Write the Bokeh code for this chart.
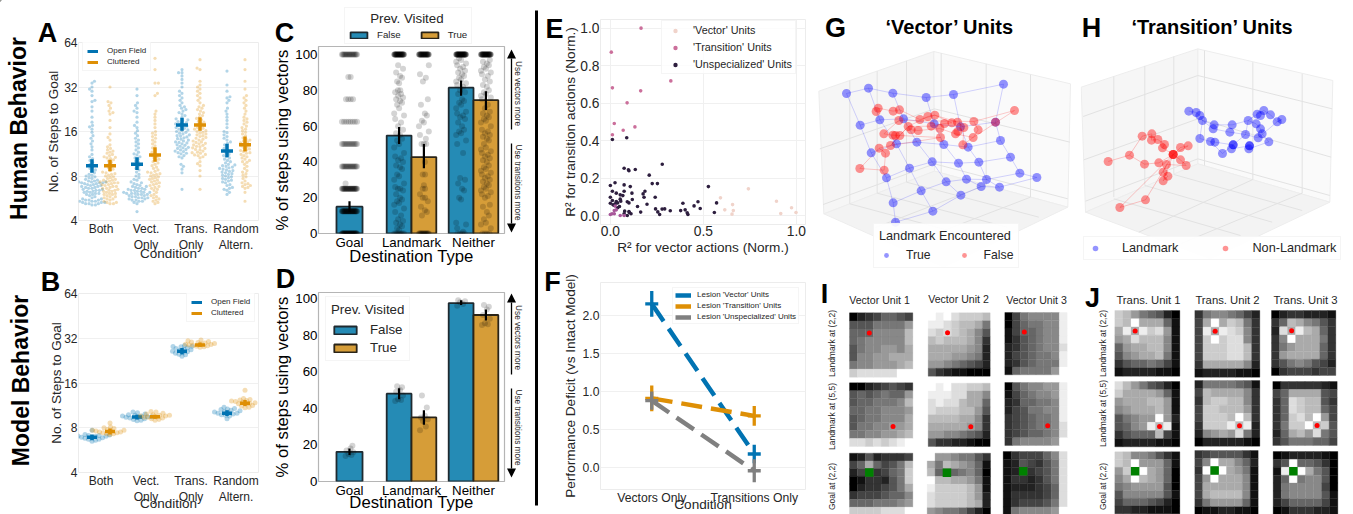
import math
from bokeh.plotting import figure
from bokeh.layouts import row, column
from bokeh.models import Range1d, FixedTicker, PrintfTickFormatter, Legend, LegendItem
from bokeh.core.properties import value
from bokeh.embed import file_html
from bokeh.resources import INLINE

FONT = "Liberation Sans"
BLUE, ORANGE = "#0173b2", "#de8f05"
BAR_BLUE, BAR_ORANGE = "#258bb5", "#d69d38"
TXT = "#262626"

# ---------- panels A / B ----------
conditions = ["Both", "Vect.\nOnly", "Trans.\nOnly", "Random\nAltern."]
a_open = [
 [5.1,5.1,5.2,5.2,5.2,5.3,5.3,5.3,5.4,5.4,5.4,5.5,5.5,5.5,5.6,5.6,5.7,5.8,5.9,6.0,6.0,6.1,6.1,6.2,6.2,6.3,6.3,6.4,6.4,6.5,6.5,6.6,6.6,6.7,6.7,6.8,6.8,6.9,6.9,7.0,7.0,7.1,7.1,7.2,7.2,7.2,7.3,7.3,7.3,7.4,7.4,7.5,7.6,7.7,7.8,7.9,8.0,8.1,8.2,8.4,8.6,8.8,9.0,9.3,9.6,9.9,10.2,10.5,10.8,11.2,12,12.6,13.2,13.8,14.4,15,15.8,16.6,17.2,17.6,18.5,20,22,23.5,25.5,26,28,30,31,32,34,35],
 [4.6,5.2,5.3,5.4,5.4,5.5,5.5,5.6,5.6,5.7,5.7,5.7,5.8,5.8,5.9,5.9,6.0,6.0,6.0,6.1,6.1,6.1,6.2,6.2,6.2,6.3,6.3,6.4,6.4,6.5,6.5,6.6,6.6,6.7,6.8,6.8,6.9,7.0,7.1,7.2,7.3,7.5,7.6,7.8,8.0,8.2,8.5,8.8,9.0,9.3,9.6,9.9,10.1,10.4,10.6,10.8,11.1,11.3,11.6,12,12.4,12.8,13.2,13.6,14,14.4,15,15.6,16.2,17,17.6,18.5,20,21.5,22,23,24,25,28,31],
 [6.5,8.4,8.9,9.3,9.6,10.6,10.8,11,11.3,11.4,11.5,11.7,11.8,12,12.1,12.3,12.4,12.5,12.7,12.9,13,13.2,13.4,13.5,13.6,13.8,14,14.2,14.3,14.5,14.7,14.9,15,15.2,15.4,15.6,15.8,16,16.2,16.4,16.6,16.8,17,17.2,17.4,17.6,17.8,18,18.2,18.4,18.7,19,19.2,19.5,20,20.5,21,21.5,22,22.5,23,23.5,24,25,26,27,28,29,30,32,34,36,38,40,40,42],
 [6.0,6.2,6.4,6.5,6.6,6.7,6.9,7.0,7.2,7.3,7.4,7.5,7.6,7.7,7.8,7.9,8.0,8.1,8.2,8.3,8.4,8.5,8.6,8.7,8.8,8.9,9.0,9.1,9.2,9.3,9.4,9.5,9.6,9.8,10,10.2,10.4,10.6,10.8,11,11.2,11.4,11.7,12,12.3,12.6,13,13.3,13.6,14,14.4,14.8,15.2,15.7,16,17,18,19,20,21,22,23,25,26,27,27.5,30,33,41],
]
a_clut = [
 [5.2,5.2,5.3,5.3,5.4,5.5,5.6,5.6,5.7,5.8,5.8,5.9,6.0,6.0,6.1,6.1,6.2,6.3,6.3,6.4,6.4,6.5,6.6,6.6,6.7,6.8,6.8,6.9,7.0,7.0,7.1,7.2,7.2,7.3,7.3,7.4,7.5,7.5,7.6,7.7,7.8,7.9,8.0,8.1,8.2,8.3,8.4,8.5,8.7,8.9,9.1,9.3,9.6,9.9,10.1,10.3,10.5,10.6,10.7,10.8,11,11.2,11.4,11.6,11.8,12,12.3,12.6,13,14,14.6,15.4,17,19,21,21.5,22,23,24,25,25.5,32],
 [5.2,5.3,5.4,5.5,5.6,5.7,5.8,5.9,6.0,6.2,6.4,6.5,6.6,6.7,6.8,6.9,7.0,7.1,7.2,7.3,7.4,7.5,7.6,7.7,7.8,7.9,8.0,8.1,8.2,8.3,8.4,8.5,8.6,8.8,9,9.2,9.4,9.6,9.8,10,10.2,10.4,10.6,10.8,11,11.3,11.6,12,12.4,12.8,13.2,13.6,14,14.4,14.8,15.2,15.6,16,17,18,19,20,21,22,28,29,34,34,42,50],
 [6.5,8.0,8.7,9.4,9.7,10,10.6,10.8,11,11.1,11.2,11.4,11.5,11.6,11.8,12,12.1,12.3,12.4,12.6,12.7,12.9,13,13.2,13.3,13.5,13.6,13.8,14,14.2,14.4,14.6,14.8,15,15.2,15.4,15.6,15.8,16,16.2,16.4,16.6,16.8,17,17.3,17.6,17.9,18.2,18.5,18.8,19.2,19.6,20,20.5,21,21.5,22,22.5,23,23.5,24,25,26,27,28,29,30,31,32,33,35,42,43,49],
 [5.4,6.2,6.6,6.7,6.8,6.9,7.0,7.1,7.2,7.4,7.7,7.9,8.1,8.3,8.5,8.7,9.0,9.3,9.6,9.9,10,10.2,10.4,10.6,10.8,11,11.2,11.4,11.5,11.7,11.9,12,12.2,12.4,12.6,12.8,13,13.2,13.4,13.6,13.8,14,14.2,14.5,15,15.4,15.8,16.2,16.6,17,17.4,18,18.5,19,19.5,20,21,22,23,24,25,26,27,28,31,35,42,49],
]
a_open_mean, a_clut_mean = [9.4, 9.6, 17.7, 11.8], [9.4, 11.1, 17.7, 13.0]
a_open_lo, a_open_hi = [8.4, 8.8, 16.2, 10.7], [10.4, 10.7, 19.8, 13.2]
a_clut_lo, a_clut_hi = [8.6, 10.0, 16.2, 11.7], [10.3, 12.5, 20.0, 14.8]

b_open = [
 [6.5,6.6,6.7,6.7,6.8,6.85,6.9,6.9,7.0,7.0,7.05,7.1,7.1,7.15,7.2,7.7],
 [8.9,9.0,9.1,9.2,9.3,9.4,9.4,9.5,9.5,9.6,9.6,9.7,9.8,9.9,10.1,10.2],
 [24.2,24.8,25,25.4,25.6,26,26.2,26.5,26.8,27,27.3,27.6,28,28.2,28.3,28.6],
 [9.2,9.6,9.7,9.8,9.9,10,10,10.1,10.2,10.3,10.4,10.5,10.6,10.7,10.8,11],
]
b_clut = [
 [7.2,7.3,7.3,7.4,7.4,7.5,7.5,7.6,7.6,7.7,7.7,7.8,7.9,8.0,8.1,8.6],
 [9.0,9.1,9.2,9.3,9.4,9.4,9.5,9.6,9.6,9.7,9.7,9.8,9.9,10,10.2,10.3],
 [27.8,28,28.3,28.5,28.7,28.8,29,29.2,29.3,29.5,29.7,30,30.2,30.4,30.8,31.2],
 [10.9,11,11.2,11.3,11.5,11.6,11.7,11.8,11.9,12,12.1,12.2,12.3,12.4,12.6,14.3],
]
b_open_mean, b_clut_mean = [6.9, 9.44, 26.2, 10.0], [7.55, 9.5, 28.8, 11.7]
b_open_lo, b_open_hi = [6.6, 9.1, 25.0, 9.6], [7.2, 9.8, 27.5, 10.5]
b_clut_lo, b_clut_hi = [7.2, 9.2, 28.0, 11.2], [7.9, 9.8, 30.0, 12.3]

# ---------- panels C / D ----------
destinations = ["Goal", "Landmark", "Neither"]
c_false = [15, 54.7, 81.5]
c_true = [42.7, 74.5]
c_false_lo, c_false_hi = [12, 50, 77], [18, 59.5, 85.5]
c_true_lo, c_true_hi = [36.5, 69], [50, 79.5]
c_goal = [100]*20 + [87.5]*2 + [75]*4 + [62.5]*8 + [50]*14 + [37.5]*18 + [28] + [25]*30 + [12.5]*40 + [0]*40
c_land_f = [100]*35 + [94,92,90,88,87,85,84,80,80,79,78,77,76,75,74,73,72,70,67,66,64,62,60,58,56,55,53,52,50,48,45,43,42,41,40,38,37,36,33,32,30,28,26,25,25,24,22,20,19,18,17,16,14,12,10,8,7,6,5,4,3,2] + [0]*8
c_land_t = [100]*32 + [94,89,87,85,75,72,67,66,63,62,60,57,55,53,50,50,50,40,33,33,27,25,25,22,20,20,18,15,13,12,10] + [0]*16
c_neit_f = [100]*40 + [98,97,96,95,94,93,92,91,90,89,88,87,86,85,84,83,82,80,79,78,75,74,73,72,70,68,67,66,65,64,62,60,58,57,56,55,52,50,45,31,30,28,25,24,20,19,6,5,3,1] + [0]*4
c_neit_t = [100]*36 + [97,96,95,94,93,92,91,90,89,88,86,85,83,82,80,79,78,77,76,75,72,70,68,67,66,65,64,63,62,60,58,57,56,55,54,53,52,50,48,47,46,45,44,43,42,41,40,38,37,36,35,34,33,32,31,30,29,28,27,26,25,24,23,22,21,20,16,15,12,10,8,6,5,3] + [0]*4
d_false = [16.2, 48, 97.5]
d_true = [35, 91]
d_false_lo, d_false_hi = [14.5, 45, 96.5], [18, 51, 99]
d_true_lo, d_true_hi = [31, 88], [39, 94]
d_goal = [14, 14.5, 15, 16, 17, 18, 19.5]
d_land_f = [44, 44.5, 45, 47, 49, 50, 51.5, 52]
d_land_t = [28, 30, 33, 34, 35, 36, 40.5, 47]
d_neit_f = [96, 97, 98, 98.5, 99]
d_neit_t = [85.5, 86, 86.5, 89, 91, 94, 95.5, 96.5]

# ---------- panel E ----------
e_vec_x = [.592,.742,.615,.657,.661,.654,.893,.916,.974,.998]
e_vec_y = [.096,.144,.032,.060,.028,.009,.078,.012,.043,.018]
e_tr_x = [.165,.005,.011,.163,.325,.090,.021,.069,.132,.011]
e_tr_y = [1.0,.872,.682,.666,.719,.602,.492,.456,.474,.432]
e_trlow_x = [0.0,.009,.021,.032,.021,.053,.074,.026]
e_trlow_y = [.007,.011,.028,.032,.011,.002,.002,.052]
e_un_x = [.011,.088,.074,.097,.100,.134,.279,.209,.225,.253,0,.025,.074,.107,.011,.074,.186,.176,.032,.053,.067,.116,.181,0,.011,.032,.053,.026,.039,.056,.021,.091,.100,.118,.197,.241,.146,.243,.255,.265,.278,.292,.322,.378,.390,.402,.413,.417,.450,.471,.483,.527,.571,.559,.163,.077,.100,.074,.091,.111,.102,.049,.039,0,.014]
e_un_y = [.407,.416,.254,.245,.240,.247,.275,.217,.172,.172,.162,.176,.165,.156,.131,.131,.131,.117,.121,.112,.108,.121,.099,.099,.082,.076,.089,.064,.069,.078,.055,.075,.069,.087,.062,.099,.050,.037,.021,.007,.036,.037,.027,.028,.067,.032,.016,.007,.053,.075,.039,.156,.069,.018,.020,.025,.023,.011,.002,.011,.018,.050,.043,.067,.059]

# ---------- panel F ----------
f_conditions = ["Vectors Only", "Transitions Only"]
f_vec, f_vec_err = [2.15, 0.18], [0.17, 0.12]
f_tra, f_tra_err = [0.91, 0.68], [0.17, 0.13]
f_uns, f_uns_err = [0.88, -0.04], [0.12, 0.15]

# ---------- panel G / H: projected positions of the 3D scatter ----------
g_true_x = [108,174,247,347,429,579, 149,208,279,371,450,555, 182,258,319,400,473,570, 228,297,365,444,505,600, 248,332,407,468,528,628, 255,367,451,512,567,679]
g_true_y = [279,263,278,291,282,251, 374,358,355,370,379,365, 457,430,425,432,440,420, 532,503,484,488,485,470, 607,571,544,536,537,518, 665,632,584,558,560,531]
g_false_x = [203,197,248,267,265,328,352,373,612,490,424,441,402,362,460,293,302,323,388,503,220,247,255,268,390,435,442,488,240,457,206,225,148,221,555]
g_false_y = [323,333,332,328,360,357,348,344,330,363,367,365,369,377,381,378,388,390,384,388,400,404,405,405,411,400,393,411,435,433,443,458,504,509,365]
g_false_chain = [0,2,3,5,7,10,12,13,15,16,17,18,25,27,19,9,4,20,21,23,24,28,15]
g_false_chain2 = [32,33,31,30,32]
g_false_chain3 = [30,28,15,6,7,11,14,29,27,8,9]
h_true_x = [325,347,358,366,401,398,455,448,503,530,540,550,570,590,604,527,540,545,533,495,358,390,403,458,458,507,507,453,505,565,426]
h_true_y = [332,336,345,360,373,385,373,395,360,341,345,330,343,364,357,370,385,400,412,402,414,423,425,433,433,436,436,445,445,424,459]
h_true_chain = [0,1,2,3,4,6,8,9,11,12,13,14,13,18,19,7,5,3,20,21,22,23,24,27,25,26,28,29,17,16,15,8,19,23,30,21]
h_false_x = [185,214,213,232,252,246,300,323,278,278,278,300,258,235,192,147,83,317,248,262,248,195,118]
h_false_y = [407,400,419,417,432,442,441,436,462,462,462,478,492,487,491,464,483,495,515,527,541,598,621]
h_false_chain = [16,15,0,1,2,3,4,5,8,6,7,8,11,17,12,18,19,20,8,21,22,8,13,14,15]

# ---------- panels I / J: heat maps (one hex digit per cell, black 0 .. white f) ----------
i_maps = [
 ["02346654","55577779","6668888b","6788888b","5788998a","58899aaa","788999ab","cdddddff"],
 ["00234543","56567669","5667778b","66778889","5677888a","5778899a","778899ab","ddcdcdef"],
 ["12523334","46a6457b","2453467c","0133257c","0233457a","34445668","66677789","ccccdddf"],
 ["fefdcccb","eedcbba7","dcdcba85","bcbbba83","aaaaa982","aaa99872","99876542","53211000"],
 ["fefddccb","eeeddaa8","deddbaa6","dcccbb95","bbbbaa83","aaaaa983","99887652","53322100"],
 ["f9987753","a7ba9861","b6567860","fbbaa971","eccccb91","dccccb92","dccccba2","98776420"],
 ["0478888e","0467788e","1466788e","1356788e","2356788d","2456778e","2356777e","1677779f"],
 ["0578899e","1467889e","2366778e","2457788e","3456778e","3456778d","3456678d","3788889f"],
 ["0344468d","1254357d","1253457d","1332357d","1222346d","1333346d","1344457d","1788889f"],
]
j_maps = [
 ["cb976520","cbfaaa61","aeaecd91","9adbbb81","69aabb81","589aab71","35667641","12222110"],
 ["db975420","caaaa961","9aaabb91","89aaab91","57899f92","5689ebe1","35666b41","12222110"],
 ["cb887531","cbf99961","9cafa960","8afba960","78999950","58888851","46665420","33221110"],
 ["37887642","4afacb73","4eaedc83","4cfcdd83","4cccddb3","4cccddb3","3aaaaa82","12222110"],
 ["27777651","4baaaa83","3bccbb83","4ccbbb93","4cccbfb3","3cccebe2","289a9d72","02222210"],
 ["34555531","48faa862","3fbfa971","49faaa81","4aaaaa81","4abbbb81","37999961","01122110"],
 ["02332221","36ba8753","2daeba63","38faaa73","379aaa63","39aaaa63","35787542","03444344"],
 ["03333321","46aaaa54","36dcbb53","36dcbb64","36cdbf94","37ccfbc5","26ab9d75","35777664"],
 ["01222210","35f66530","1eafa750","26f78850","27888840","27888851","24666641","01333221"],
]
i_titles = ["Vector Unit 1", "Vector Unit 2", "Vector Unit 3"]
j_titles = ["Trans. Unit 1", "Trans. Unit 2", "Trans. Unit 3"]
row_titles = ["Landmark at (2,2)", "Landmark at (5,5)", "Goal at (2,2)"]

# ---------- helpers ----------
def panel(box, frame, xr, yr, ylog=False, **kw):
    bx0, by0, bx1, by1 = box
    fx0, fx1, fy0, fy1 = frame
    p = figure(width=bx1 - bx0, height=by1 - by0,
               min_border_left=fx0 - bx0, min_border_right=bx1 - fx1,
               min_border_top=fy0 - by0, min_border_bottom=by1 - fy1,
               x_range=Range1d(*xr), y_range=Range1d(*yr), output_backend="svg",
               toolbar_location=None, y_axis_type="log" if ylog else "linear", **kw)
    for ax in (p.xaxis[0], p.yaxis[0]):
        ax.major_tick_line_color = None
        ax.minor_tick_line_color = None
        ax.major_tick_out = 0
        ax.major_tick_in = 0
        ax.minor_tick_out = 0
        ax.minor_tick_in = 0
        ax.axis_line_color = None
        ax.major_label_text_font = FONT
        ax.axis_label_text_font = FONT
        ax.axis_label_text_font_style = "normal"
        ax.major_label_standoff = 1
    return p

def style_axes(p, tick, lab, color):
    for ax in (p.xaxis[0], p.yaxis[0]):
        ax.major_label_text_font_size = f"{tick}px"
        ax.axis_label_text_font_size = f"{lab}px"
        ax.major_label_text_color = color
        ax.axis_label_text_color = color

def swarm(vals, px_of, d):
    order = sorted(range(len(vals)), key=lambda i: vals[i])
    placed, out = [], [0.0] * len(vals)
    for n, i in enumerate(order):
        y = px_of(vals[i])
        sign = 1 if n % 2 else -1
        k = 0
        while True:
            dx = sign * ((k + 1) // 2) * 0.5 * (1 if k % 2 else -1)
            if all((dx - a) ** 2 + (y - b) ** 2 >= d * d for a, b in placed[-60:]):
                break
            k += 1
        placed.append((dx, y))
        out[i] = dx
    return out

JITTER = [-4, 2, -1, 4, -3, 1, 3, -2, 0, -5, 5]
def spread(vals, half):
    counts, seen, out = {}, {}, []
    for v in vals:
        counts[v] = counts.get(v, 0) + 1
    for i, v in enumerate(vals):
        n = counts[v]
        j = seen.get(v, 0)
        seen[v] = j + 1
        if n >= 2:
            out.append((j - (n - 1) / 2) * (2 * min(half, (n - 1) * 1.2) / (n - 1)))
        else:
            out.append(JITTER[i % len(JITTER)])
    return out

def behaviour(box, frame, opens, cluts, om, cm, olo, ohi, clo, chi, size, d, cross, legend_xy, ylab_standoff, xlab_standoff):
    p = panel(box, frame, (-0.5, 3.5), (4, 64), ylog=True)
    p.xaxis.ticker = FixedTicker(ticks=[0, 1, 2, 3])
    p.xaxis.major_label_overrides = {i: c for i, c in enumerate(conditions)}
    p.yaxis.ticker = FixedTicker(ticks=[4, 8, 16, 32, 64])
    p.yaxis.formatter = PrintfTickFormatter(format="%d")
    p.xaxis.axis_label = "Condition"
    p.yaxis.axis_label = "No. of Steps to Goal"
    p.xaxis.axis_label_standoff = xlab_standoff
    p.yaxis.axis_label_standoff = ylab_standoff
    style_axes(p, 12, 13.5, TXT)
    p.xgrid.visible = False
    p.ygrid.grid_line_color = "#f0f0f0"
    p.outline_line_color = "#ececec"
    fx0, fx1, fy0, fy1 = frame
    ppo = (fy1 - fy0) / 4.0
    ppc = (fx1 - fx0) / 4.0
    px_of = lambda v: math.log2(v) * ppo
    rends = {}
    for groups, means, lo, hi, off, col, name in (
            (opens, om, olo, ohi, -0.2, BLUE, "Open Field"), (cluts, cm, clo, chi, 0.2, ORANGE, "Cluttered")):
        xs, ys = [], []
        for i, g in enumerate(groups):
            for v, dx in zip(g, swarm(g, px_of, d)):
                xs.append(i + off + dx / ppc)
                ys.append(v)
        p.scatter(xs, ys, size=size, fill_color=col, fill_alpha=0.3, line_color=None)
        cx = [i + off for i in range(4)]
        p.segment(cx, lo, cx, hi, line_color=col, line_width=3.5)
        p.scatter(cx, means, marker="dash", size=cross, line_color=col, line_width=3.5)
        rends[name] = p.line([0, 0], [4, 4], line_color=col, line_width=3)
    leg = Legend(items=[LegendItem(label=k, renderers=[r]) for k, r in rends.items()],
                 location=legend_xy, label_text_font=FONT, label_text_font_size="8px",
                 label_text_color=TXT, glyph_width=11, glyph_height=8, spacing=2, padding=4,
                 margin=0, label_standoff=9, border_line_color="#ececec", background_fill_alpha=0.8,
                 label_height=8)
    p.add_layout(leg)
    return p

a = behaviour((0, 0, 270, 264), (75, 258, 42, 220), a_open, a_clut, a_open_mean, a_clut_mean,
              a_open_lo, a_open_hi, a_clut_lo, a_clut_hi, 3.2, 3.1, 12, (4, 149), 0, -9)
b = behaviour((0, 264, 270, 514), (78, 258, 293, 472), b_open, b_clut, b_open_mean, b_clut_mean,
              b_open_lo, b_open_hi, b_clut_lo, b_clut_hi, 5, 3.6, 10, (108, 150), -3, -11)

def bars(box, frame, ymax, f, t, flo, fhi, tlo, thi, clouds, err_w, xstand):
    p = panel(box, frame, (-0.5, 2.5), (0, ymax))
    p.xaxis.ticker = FixedTicker(ticks=[0, 1, 2])
    p.xaxis.major_label_overrides = {i: c for i, c in enumerate(destinations)}
    p.yaxis.ticker = FixedTicker(ticks=[0, 20, 40, 60, 80, 100])
    p.xaxis.axis_label = "Destination Type"
    p.yaxis.axis_label = "% of steps using vectors"
    p.xaxis.axis_label_standoff = xstand
    p.yaxis.axis_label_standoff = 0
    style_axes(p, 13.3, 16.7, "black")
    p.grid.visible = False
    p.outline_line_color = "#b5b5b5"
    p.outline_line_width = 1.2
    fx0, fx1, fy0, fy1 = frame
    fx = [0, 0.8, 1.8]
    tx = [1.2, 2.2]
    r_f = p.vbar(x=fx, top=f, width=[0.42, 0.4, 0.4], bottom=0, fill_color=BAR_BLUE, line_color="#1f2a30", line_width=1.8)
    r_t = p.vbar(x=tx, top=t, width=0.4, bottom=0, fill_color=BAR_ORANGE, line_color="#2a2418", line_width=1.8)
    ppc = (fx1 - fx0) / 3.0
    for vals, c, half in clouds:
        dx = spread(vals, half)
        p.scatter([c + d / ppc for d in dx], vals, size=6, fill_color="black", fill_alpha=0.17, line_color=None)
    p.segment(fx, flo, fx, fhi, line_color="black", line_width=err_w)
    p.segment(tx, tlo, tx, thi, line_color="black", line_width=err_w)
    return p, r_f, r_t

c, c_f, c_t = bars((270, 0, 540, 268), (315, 504, 46, 233), 104.5, c_false, c_true, c_false_lo, c_false_hi,
                   c_true_lo, c_true_hi,
                   [(c_goal, 0, 7.7), (c_land_f, 0.8, 5), (c_land_t, 1.2, 5), (c_neit_f, 1.8, 5), (c_neit_t, 2.2, 5)],
                   2.2, -6)
d, d_f, d_t = bars((270, 268, 540, 514), (315, 506, 292, 481), 103.3, d_false, d_true, d_false_lo, d_false_hi,
                   d_true_lo, d_true_hi,
                   [(d_goal, 0, 0), (d_land_f, 0.8, 0), (d_land_t, 1.2, 0), (d_neit_f, 1.8, 0), (d_neit_t, 2.2, 0)],
                   2.2, -8)
d.add_layout(Legend(items=[LegendItem(label="False", renderers=[d_f]), LegendItem(label="True", renderers=[d_t])],
                    title="Prev. Visited", location=(7, 120),
                    title_text_font=FONT, title_text_font_size="13.3px", title_text_font_style="normal", title_text_color=TXT,
                    label_text_font=FONT, label_text_font_size="13.3px", label_text_color=TXT,
                    glyph_width=28, glyph_height=10, spacing=3, padding=5, margin=0, label_standoff=11,
                    title_standoff=5, border_line_color="#ececec", background_fill_alpha=0.8, label_height=10))

# E
e = panel((540, 0, 810, 262), (600, 809, 19, 224), (-0.053, 1.049), (-0.046, 1.046))
e.xaxis.ticker = FixedTicker(ticks=[0, 0.5, 1.0])
e.yaxis.ticker = FixedTicker(ticks=[0, 0.2, 0.4, 0.6, 0.8, 1.0])
e.xaxis.formatter = PrintfTickFormatter(format="%.1f")
e.yaxis.formatter = PrintfTickFormatter(format="%.1f")
e.xaxis.axis_label = "R² for vector actions (Norm.)"
e.yaxis.axis_label = "R² for transition actions (Norm.)"
e.xaxis.axis_label_standoff = 1
e.yaxis.axis_label_standoff = -1
style_axes(e, 13.8, 13.6, TXT)
e.grid.grid_line_color = "#f0f0f0"
e.outline_line_color = "#ececec"
r1 = e.scatter(e_vec_x, e_vec_y, size=3.6, fill_color="#f0d3ca", line_color=None)
r2 = e.scatter(e_tr_x, e_tr_y, size=3.6, fill_color="#cb6f9b", line_color=None)
r3 = e.scatter(e_un_x, e_un_y, size=3.6, fill_color="#2d1e3e", line_color=None)
e.scatter(e_trlow_x, e_trlow_y, size=3.6, fill_color="#a8589a", line_color=None)
e.add_layout(Legend(items=[LegendItem(label="'Vector' Units", renderers=[r1]),
                           LegendItem(label="'Transition' Units", renderers=[r2]),
                           LegendItem(label="'Unspecialized' Units", renderers=[r3])],
                    location=(61, 150), label_text_font=FONT, label_text_font_size="10.8px", label_text_color=TXT,
                    glyph_width=20, glyph_height=11, spacing=5, padding=3, margin=0, label_standoff=8,
                    border_line_color="#ececec", background_fill_alpha=0.8, label_height=11))

# F
f = panel((540, 262, 810, 514), (596, 805, 282, 490), (-0.5, 1.5), (-0.286, 2.43))
f.xaxis.ticker = FixedTicker(ticks=[0, 1])
f.xaxis.major_label_overrides = {i: t for i, t in enumerate(f_conditions)}
f.yaxis.ticker = FixedTicker(ticks=[0, 0.5, 1.0, 1.5, 2.0])
f.yaxis.formatter = PrintfTickFormatter(format="%.1f")
f.xaxis.axis_label = "Condition"
f.yaxis.axis_label = "Performance Deficit (vs Intact Model)"
f.xaxis.axis_label_standoff = -11
f.yaxis.axis_label_standoff = 2
style_axes(f, 12.2, 13.6, TXT)
f.xgrid.visible = False
f.ygrid.grid_line_color = "#f0f0f0"
f.outline_line_color = "#ececec"
f_items = []
for ys, errs, col, name in ((f_vec, f_vec_err, BLUE, "Lesion 'Vector' Units"),
                            (f_tra, f_tra_err, ORANGE, "Lesion 'Transition' Units"),
                            (f_uns, f_uns_err, "#808080", "Lesion 'Unspecialized' Units")):
    xs = [0, 1]
    r = f.line(xs, ys, line_color=col, line_width=4.5, line_dash="21 9")
    f.segment(xs, [y - e_ for y, e_ in zip(ys, errs)], xs, [y + e_ for y, e_ in zip(ys, errs)], line_color=col, line_width=3.3)
    f.scatter(xs, ys, marker="dash", size=13, line_color=col, line_width=3.3)
    f_items.append(LegendItem(label=name, renderers=[r]))
f.add_layout(Legend(items=f_items, location=(72, 165), label_text_font=FONT, label_text_font_size="8px", label_text_color=TXT,
                    glyph_width=16, glyph_height=8, spacing=2, padding=2, margin=0, label_standoff=6,
                    border_line_color="#ececec", background_fill_alpha=0.8, label_height=8))

# G / H
def cube(width, xr, panes, grid, title, tx):
    p = figure(width=width, height=280, x_range=Range1d(0, xr), y_range=Range1d(840, 0),
               min_border=0, x_axis_location=None, y_axis_location=None, output_backend="svg", toolbar_location=None)
    p.grid.visible = False
    p.outline_line_color = None
    for poly, colr in panes:
        p.patch([q[0] for q in poly], [q[1] for q in poly], fill_color=colr, line_color="#ededed", line_width=1)
    p.multi_line([[s[0], s[2]] for s in grid], [[s[1], s[3]] for s in grid], line_color="#e2e2e2", line_width=1)
    p.text([tx], [80], text=[title], text_font=value(FONT), text_font_size="20px", text_font_style="bold",
           text_align="center", text_baseline="middle", text_color="black")
    return p

g = cube(270, 810,
         [([(25,272),(370,153),(372,512),(40,640)], "#f6f6f6"),
          ([(370,153),(780,250),(772,620),(372,512)], "#fafafa"),
          ([(40,640),(372,512),(772,620),(400,800)], "#f3f3f3")],
         [(118,240,118,610),(200,212,200,578),(288,181,288,545),(527,190,527,553),(660,222,660,590),(392,158,392,517),
          (28,445,372,325),(38,612,372,490),(372,325,778,425),(372,490,772,595),
          (118,610,500,713),(200,578,590,680),(288,545,685,650),(527,553,195,681),(660,590,328,718)],
         "\u2018Vector\u2019 Units", 418)
rows6 = [list(range(i, i + 6)) for i in range(0, 36, 6)]
cols6 = [[i + 6 * k for k in range(6)] for i in range(6)]
lat = rows6 + cols6
g.multi_line([[g_true_x[i] for i in l] for l in lat], [[g_true_y[i] for i in l] for l in lat],
             line_color="blue", line_alpha=0.17, line_width=1)
for ch in (g_false_chain, g_false_chain2, g_false_chain3):
    g.line([g_false_x[i] for i in ch], [g_false_y[i] for i in ch], line_color="red", line_alpha=0.2, line_width=1)
rgt = g.scatter(g_true_x, g_true_y, size=9, fill_color="blue", fill_alpha=0.42, line_color=None)
rgf = g.scatter(g_false_x, g_false_y, size=9, fill_color="red", fill_alpha=0.42, line_color=None)
g.add_layout(Legend(items=[LegendItem(label="True", renderers=[rgt]), LegendItem(label="False", renderers=[rgf])],
                    title="Landmark Encountered", location=(63, 12), orientation="horizontal",
                    title_text_font=FONT, title_text_font_size="12.7px", title_text_font_style="normal", title_text_color=TXT,
                    label_text_font=FONT, label_text_font_size="12.2px", label_text_color=TXT,
                    glyph_width=14, glyph_height=12, spacing=26, padding=5, margin=0, label_standoff=13,
                    title_standoff=5, border_line_color="#ececec", background_fill_alpha=0.9, label_height=12))

h = cube(273, 819,
         [([(2,260),(352,145),(352,490),(15,635)], "#f6f6f6"),
          ([(352,145),(757,240),(748,605),(352,490)], "#fafafa"),
          ([(15,635),(352,490),(748,605),(390,775)], "#f3f3f3")],
         [(100,228,100,590),(193,196,193,555),(280,168,280,520),(517,185,517,537),(665,220,665,578),(372,150,372,495),
          (8,348,352,225),(10,478,352,355),(15,602,352,475),(352,225,755,325),(352,355,752,470),(352,475,748,585),
          (100,595,480,705),(193,555,575,665),(280,522,665,630),(517,537,175,695),(665,578,300,730)],
         "\u2018Transition\u2019 Units", 396)
h.line([h_true_x[i] for i in h_true_chain], [h_true_y[i] for i in h_true_chain], line_color="blue", line_alpha=0.17, line_width=1)
h.line([h_false_x[i] for i in h_false_chain], [h_false_y[i] for i in h_false_chain], line_color="red", line_alpha=0.22, line_width=1)
rht = h.scatter(h_true_x, h_true_y, size=9, fill_color="blue", fill_alpha=0.42, line_color=None)
rhf = h.scatter(h_false_x, h_false_y, size=9, fill_color="red", fill_alpha=0.42, line_color=None)
h.add_layout(Legend(items=[LegendItem(label="Landmark", renderers=[rht]), LegendItem(label="Non-Landmark", renderers=[rhf])],
                    location=(3, 20), orientation="horizontal",
                    label_text_font=FONT, label_text_font_size="12.7px", label_text_color=TXT,
                    glyph_width=14, glyph_height=14, spacing=40, padding=4, margin=0, label_standoff=20,
                    border_line_color="#ececec", background_fill_alpha=0.9, label_height=14))

# I / J
heat = figure(width=543, height=234, x_range=Range1d(810, 1353), y_range=Range1d(514, 280),
              min_border=0, x_axis_location=None, y_axis_location=None, output_backend="svg", toolbar_location=None)
heat.grid.visible = False
heat.outline_line_color = None
i_boxes = [(117,307,97,290),(117,307,307,498),(117,307,518,703),
           (353,539,97,287),(353,539,308,498),(350,540,518,705),
           (583,770,96,283),(583,770,306,495),(578,770,513,703)]
j_boxes = [(103,298,90,287),(103,298,303,499),(103,298,514,700),
           (343,538,90,290),(343,538,300,497),(343,533,510,703),
           (573,766,90,285),(577,770,303,495),(578,772,513,702)]
marks = [("red", 2, 2), ("red", 5, 5), ("green", 2, 2)] * 3
L, R, T, B, C = [], [], [], [], []
redx, redy, grx, gry = [], [], [], []
for maps, boxes, ox in ((i_maps, i_boxes, 810), (j_maps, j_boxes, 1080)):
    for hm, bx, (mc, mr_, mc_) in zip(maps, boxes, marks):
        x0, x1, y0, y1 = ox + bx[0] / 3, ox + bx[1] / 3, 280 + bx[2] / 3, 280 + bx[3] / 3
        w, hh = (x1 - x0) / 8, (y1 - y0) / 8
        for rr, line in enumerate(hm):
            for cc, ch in enumerate(line):
                lv = int(ch, 16) * 17
                L.append(x0 + cc * w); R.append(x0 + (cc + 1) * w)
                T.append(y0 + rr * hh); B.append(y0 + (rr + 1) * hh)
                C.append(f"#{lv:02x}{lv:02x}{lv:02x}")
        cx, cy = x0 + (mc_ + .5) * w, y0 + (mr_ + .5) * hh
        if mc == "red":
            redx.append(cx); redy.append(cy)
        else:
            grx.append(cx); gry.append(cy)
heat.quad(left=L, right=R, top=T, bottom=B, fill_color=C, line_color=C, line_width=0.3)
heat.scatter(redx, redy, size=5, fill_color="red", line_color=None)
heat.scatter(grx, gry, marker="square", size=8.5, fill_color="green", line_color=None)
def htext(x, y, t, size, angle=0.0, bold=False, color=TXT):
    heat.text([x], [y], text=[t], text_font=value(FONT), text_font_size=f"{size}px",
              text_font_style="bold" if bold else "normal", text_align="center", text_baseline="middle",
              angle=[angle], text_color=color)
for x, y, t in zip([879, 958, 1036], [299, 298, 299], i_titles):
    htext(x, y, t, 10.6)
for x, y, t in zip([1148, 1227, 1305], [299, 299, 299], j_titles):
    htext(x, y, t, 11.3)
for y, t in zip([343, 416, 486], row_titles):
    htext(831, y, t, 8.5, angle=math.pi / 2)
for y, t in zip([343, 413, 486], row_titles):
    htext(1102, y, t, 8.5, angle=math.pi / 2)

# overlay: panel letters, side titles, arrows, divider, legend of C (page pixels)
ov = figure(width=1353, height=514, x_range=Range1d(0, 1353), y_range=Range1d(514, 0), min_border=0,
            x_axis_location=None, y_axis_location=None, output_backend="svg", toolbar_location=None,
            margin=(-514, 0, 0, 0))
ov.grid.visible = False
ov.outline_line_color = None
ov.background_fill_color = None
ov.border_fill_color = None
def otext(x, y, t, size, angle=0.0, bold=False, color="black"):
    ov.text([x], [y], text=[t], text_font=value(FONT), text_font_size=f"{size}px",
            text_font_style="bold" if bold else "normal", text_align="center", text_baseline="middle",
            angle=[angle], text_color=color)
panel_letters = ["A", "B", "C", "D", "E", "F", "G", "H", "I", "J"]
letter_x = [47, 50, 284, 285, 554, 552, 835, 1091, 824, 1092]
letter_y = [32, 281, 32, 278, 28, 281, 27, 27, 293, 297]
for t, x, y in zip(panel_letters, letter_x, letter_y):
    otext(x, y, t, 27, bold=True)
otext(18, 128, "Human Behavior", 23, angle=math.pi / 2, bold=True)
otext(20, 380, "Model Behavior", 23, angle=math.pi / 2, bold=True)
ov.quad(left=[534.5], right=[537.5], top=[10], bottom=[505], fill_color="black", line_color=None)
arrows = [(511, 129, 49, 518, 93, "Use vectors more"), (511, 143, 232, 518, 182, "Use transitions more"),
          (511, 374, 293, 518, 337, "Use vectors more"), (511, 388, 477, 518, 427, "Use transitions more")]
for ax_, y0, y1, tx, ty, txt in arrows:
    head = 9 if y1 < y0 else -9
    ov.segment([ax_], [y0], [ax_], [y1 + head], line_color="black", line_width=1.3)
    ov.patch([ax_ - 4.5, ax_ + 4.5, ax_], [y1 + head, y1 + head, y1], fill_color="black", line_color=None)
    otext(tx, ty, txt, 8.3, angle=-math.pi / 2, color=TXT)
lf = ov.vbar(x=[-50], top=[-40], bottom=[-50], width=5, fill_color=BAR_BLUE, line_color="#1f2a30", line_width=1.8)
lt = ov.vbar(x=[-50], top=[-40], bottom=[-50], width=5, fill_color=BAR_ORANGE, line_color="#2a2418", line_width=1.8)
ov.add_layout(Legend(items=[LegendItem(label="False", renderers=[lf]), LegendItem(label="True", renderers=[lt])],
                     title="\u00a0\u00a0\u00a0\u00a0\u00a0\u00a0Prev. Visited", location=(344, 470), orientation="horizontal",
                     title_text_font=FONT, title_text_font_size="13.3px", title_text_font_style="normal", title_text_color=TXT,
                     label_text_font=FONT, label_text_font_size="9.7px", label_text_color=TXT,
                     glyph_width=21, glyph_height=8, spacing=18, padding=3, margin=0, label_standoff=8,
                     title_standoff=3, border_line_color="#ececec", background_fill_alpha=0.8, label_height=9))

base = row(column(a, b, spacing=0), column(c, d, spacing=0), column(e, f, spacing=0),
           column(row(g, h, spacing=0), heat, spacing=0), spacing=0)
page = column(base, ov, spacing=0)
open("out.html", "w").write(file_html(page, INLINE))
